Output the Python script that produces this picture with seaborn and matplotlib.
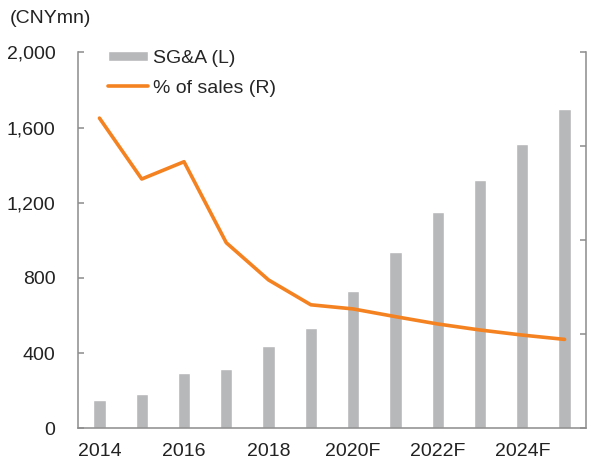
import matplotlib
matplotlib.use('Agg')
import matplotlib.pyplot as plt
import seaborn as sns
import numpy as np

# Data
years = ['2014', '2015', '2016', '2017', '2018', '2019',
         '2020F', '2021F', '2022F', '2023F', '2024F', '2025F']
sga = [149, 182, 294, 314, 436, 536, 732, 936, 1152, 1320, 1510, 1700]
pct_sales = [16.5, 13.26, 14.18, 9.87, 7.89, 6.57, 6.35, 5.94, 5.55, 5.23, 4.96, 4.73]
left_ticks = [0, 400, 800, 1200, 1600, 2000]
right_ticks = [0, 5, 10, 15, 20]

sns.set_style('white')
plt.rcParams['font.family'] = ['Liberation Sans', 'DejaVu Sans']
plt.rcParams['font.size'] = 14

bar_color = '#B7B8BA'
line_color = '#F58220'
spine_color = '#8C8C8C'
text_color = '#222222'

fig = plt.figure(figsize=(5.91, 4.62), dpi=100)
ax = fig.add_axes([0.1325, 0.0729, 0.8585, 0.8139])

sns.barplot(x=years, y=sga, color=bar_color, width=0.29, saturation=1,
            ax=ax, label='SG&A (L)')
ax.set_ylim(0, 2000)
ax.set_xlim(-0.5, len(years) - 0.5)
ax.set_yticks(left_ticks)
ax.set_yticklabels([f'{v:,}' for v in left_ticks])

# x labels every other year, tick marks at category boundaries
pos = np.arange(len(years))
ax.set_xticks(pos[::2])
ax.set_xticklabels(years[::2])
ax.set_xticks(pos[:-1] + 0.5, minor=True)
ax.tick_params(axis='x', which='major', length=0, pad=10.5, colors=text_color)
ax.tick_params(axis='x', which='minor', direction='in', length=4, width=1.1,
               color=spine_color)
ax.tick_params(axis='y', direction='in', length=4, width=1.1,
               color=spine_color, labelcolor=text_color, pad=16.5)

ax2 = ax.twinx()
sns.lineplot(x=pos, y=pct_sales, color=line_color, linewidth=2.6, ax=ax2,
             label='% of sales (R)')
ax2.set_ylim(0, 20)
ax2.set_yticks(right_ticks)
ax2.set_yticklabels([])
ax2.tick_params(axis='y', direction='in', length=4, width=1.1, color=spine_color)

for a in (ax, ax2):
    a.spines['top'].set_visible(False)
    for s in ('left', 'right', 'bottom'):
        a.spines[s].set_color(spine_color)
        a.spines[s].set_linewidth(1.1)
ax.spines['right'].set_visible(False)
ax2.spines['left'].set_visible(False)
ax2.spines['bottom'].set_visible(False)

# combined legend
h1, l1 = ax.get_legend_handles_labels()
h2, l2 = ax2.get_legend_handles_labels()
if ax2.get_legend():
    ax2.get_legend().remove()
if ax.get_legend():
    ax.get_legend().remove()
ax2.legend(h1 + h2, l1 + l2, loc='upper left', bbox_to_anchor=(0.1827, 0.892),
           bbox_transform=fig.transFigure, frameon=False, borderpad=0,
           borderaxespad=0, handlelength=2.06, handletextpad=0.26,
           handleheight=0.45, labelspacing=0.65, fontsize=14)

fig.text(0.017, 0.961, '(CNYmn)', ha='left', va='center', fontsize=14,
         color=text_color)

fig.savefig('out.png', dpi=100)
